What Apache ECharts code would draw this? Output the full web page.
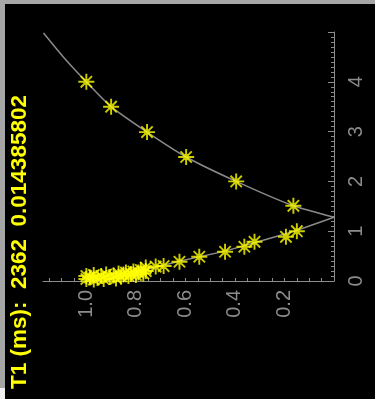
<!DOCTYPE html>
<html>
<head>
<meta charset="utf-8">
<script src="https://cdn.jsdelivr.net/npm/echarts@6/dist/echarts.min.js"></script>
<style>
html, body { margin: 0; padding: 0; background: #000; }
#chart { width: 375px; height: 399px; }
</style>
</head>
<body>
<div id="chart"></div>
<script>
// plot is shown turned on its side: horizontal = signal (inverted), vertical = time
const titleText = "T1 (ms):  2362  0.014385802";
const signalLabels = ["0.2", "0.4", "0.6", "0.8", "1.0"];
const timeLabels = ["0", "1", "2", "3", "4"];

// measured points, recovery branch
const upperSignal = [1.0, 0.9, 0.755, 0.597, 0.395, 0.164];
const upperTime = [4.0, 3.5, 2.99, 2.49, 2.0, 1.51];

// measured points, early branch (incl. the dense cluster near t=0)
const lowerSignal = [0.15, 0.194, 0.321, 0.362, 0.44, 0.544, 0.624, 0.688, 0.72, 0.76,
  1.0, 1.0, 0.985, 0.97, 0.97, 0.955, 0.94, 0.93, 0.92, 0.905, 0.89, 0.88,
  0.87, 0.86, 0.85, 0.84, 0.83, 0.82, 0.81, 0.8, 0.79, 0.78, 0.77, 0.76];
const lowerTime = [1.0, 0.887, 0.787, 0.687, 0.587, 0.487, 0.387, 0.3, 0.29, 0.27,
  0.04, 0.1, 0.07, 0.03, 0.12, 0.06, 0.1, 0.04, 0.13, 0.08, 0.11, 0.05,
  0.15, 0.09, 0.13, 0.17, 0.1, 0.14, 0.19, 0.12, 0.17, 0.22, 0.15, 0.2];

// fitted curve
const fitUpperSignal = [0, 0.164, 0.395, 0.597, 0.755, 0.9, 1.0, 1.093, 1.173];
const fitUpperTime = [1.28, 1.51, 2.0, 2.49, 2.99, 3.5, 4.0, 4.5, 4.98];
const fitLowerSignal = [0, 0.16, 0.3, 0.44, 0.62, 0.78, 0.93];
const fitLowerTime = [1.28, 1.0, 0.8, 0.6, 0.4, 0.2, 0];

const zip = (a, b) => a.map((v, i) => [v, b[i]]);

const starPath = "path://M44 0L56 0L56 100L44 100Z M0 44L100 44L100 56L0 56Z " +
  "M18.8 10.4L89.6 81.2L81.2 89.6L10.4 18.8Z M81.2 10.4L89.6 18.8L18.8 89.6L10.4 81.2Z " +
  "M32 32L68 32L68 68L32 68Z";

const axisGray = "#8c8c8c";
const labelFont = "Liberation Sans";

const chart = echarts.init(document.getElementById("chart"));

chart.setOption({
  animation: false,
  backgroundColor: "#000",
  grid: { left: 43, right: 41, top: 32, bottom: 118 },
  xAxis: {
    type: "value",
    inverse: true,
    min: 0,
    max: 1.175,
    interval: 0.05,
    position: "bottom",
    axisLine: { lineStyle: { color: axisGray, width: 1 } },
    axisTick: { inside: true, length: 3, lineStyle: { color: axisGray } },
    splitLine: { show: false },
    axisLabel: {
      rotate: 90,
      margin: 9,
      color: axisGray,
      fontSize: 20,
      fontFamily: labelFont,
      showMaxLabel: false,
      formatter: (v) => {
        const lab = v.toFixed(1);
        return Math.abs(v - Number(lab)) < 1e-6 && signalLabels.includes(lab) ? lab : "";
      },
    },
  },
  yAxis: {
    type: "value",
    position: "right",
    min: 0,
    max: 5,
    interval: 1,
    axisLine: { show: true, lineStyle: { color: axisGray, width: 1 } },
    axisTick: { show: true, inside: true, length: 6, lineStyle: { color: axisGray } },
    minorTick: { show: true, splitNumber: 10, length: 3, lineStyle: { color: axisGray } },
    splitLine: { show: false },
    axisLabel: {
      rotate: 90,
      margin: 12,
      color: axisGray,
      fontSize: 20,
      fontFamily: labelFont,
      showMaxLabel: false,
      formatter: (v) => timeLabels[Math.round(v)] || "",
    },
  },
  series: [
    {
      type: "line",
      data: zip(fitUpperSignal, fitUpperTime),
      showSymbol: false,
      smooth: 0.2,
      lineStyle: { color: "#8a8a8a", width: 1.5 },
      z: 1,
    },
    {
      type: "line",
      data: zip(fitLowerSignal, fitLowerTime),
      showSymbol: false,
      lineStyle: { color: "#8a8a8a", width: 1.5 },
      z: 1,
    },
    {
      type: "scatter",
      data: zip(upperSignal, upperTime),
      symbol: starPath,
      symbolSize: 16,
      itemStyle: { color: "#ffff00" },
      z: 2,
    },
    {
      type: "scatter",
      data: zip(lowerSignal, lowerTime),
      symbol: starPath,
      symbolSize: 16,
      itemStyle: { color: "#ffff00" },
      z: 2,
    },
  ],
  graphic: [
    { type: "rect", shape: { x: 0, y: 0, width: 375, height: 4 }, style: { fill: "#a6a6a6" } },
    { type: "rect", shape: { x: 0, y: 0, width: 5, height: 388 }, style: { fill: "#a6a6a6" } },
    { type: "rect", shape: { x: 0, y: 388, width: 5, height: 11 }, style: { fill: "#f0f0f0" } },
    {
      type: "text",
      x: 31,
      y: 389,
      rotation: Math.PI / 2,
      style: {
        text: titleText,
        fill: "#ffff00",
        fontSize: 22.5,
        fontWeight: "bold",
        fontFamily: labelFont,
        align: "left",
        verticalAlign: "bottom",
      },
    },
  ],
});
</script>
</body>
</html>
